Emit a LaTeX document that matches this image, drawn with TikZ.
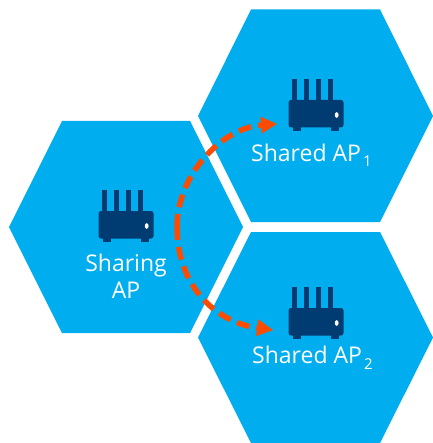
\documentclass[tikz,border=0pt]{standalone}
\usepackage{fontspec}
\setmainfont{Open Sans}
\usetikzlibrary{arrows.meta}
\definecolor{hexblue}{HTML}{00AEEF}
\definecolor{navy}{HTML}{003C71}
\definecolor{arroworange}{HTML}{FC4C02}
\newcommand{\apsub}[1]{\kern2pt\raisebox{-5.5pt}{\fontsize{15}{15}\selectfont #1}}
\tikzset{
  hexcell/.style={fill=hexblue,draw=none},
  aplabel/.style={text=white,font=\fontsize{23}{27}\selectfont,align=center,inner sep=0pt},
  share/.style={draw=arroworange,line width=5.5pt,dash pattern=on 13pt off 7pt,
    -{Triangle[length=16pt,width=17pt,fill=arroworange,line width=0pt]}},
  routerpic/.pic={
    \fill[navy] (-24,-29) rectangle (-19,-4);
    \fill[navy] (-12,-29) rectangle (-7,-4);
    \fill[navy] (0,-29) rectangle (5,-4);
    \fill[navy] (12,-29) rectangle (17,-4);
    \fill[navy,rounded corners=2.5pt] (-27.5,-8) rectangle (27.5,19.5);
    \fill[navy] (-23,18) rectangle (-15,23);
    \fill[navy] (15,18) rectangle (23,23);
    \fill[white] (20.7,7) ellipse (1.9pt and 2.8pt);
  }
}
\begin{document}
\begin{tikzpicture}[x=1pt,y=-1pt]
\useasboundingbox (0,0) rectangle (432,443);
\fill[white] (0,0) rectangle (432,443);
\fill[hexcell] (9,227) -- (62,121) -- (190,121) -- (243,227) -- (190,333) -- (62,333) -- cycle;
\fill[hexcell] (198,116) -- (251,9.5) -- (380,9.5) -- (433,116) -- (380,222) -- (251,222) -- cycle;
\fill[hexcell] (198,337.5) -- (251,232) -- (380,232) -- (433,337.5) -- (380,443) -- (251,443) -- cycle;
\pic at (126,219) {routerpic};
\pic at (316,108) {routerpic};
\pic at (316,316) {routerpic};
\node[aplabel] (sharing) at (126,276) {Sharing\\AP};
\node[aplabel,anchor=west] (ap1) at (251,155.5) {Shared AP\apsub{1}};
\node[aplabel,anchor=west] (ap2) at (252,358) {Shared AP\apsub{2}};
\coordinate (mid) at (177,227);
\coordinate (t1) at (277,124);
\coordinate (t2) at (273,330);
\draw[share] (mid) .. controls (177,175) and (222,128) .. (t1);
\draw[share] (mid) .. controls (177,285) and (215,322) .. (t2);
\end{tikzpicture}
\end{document}
